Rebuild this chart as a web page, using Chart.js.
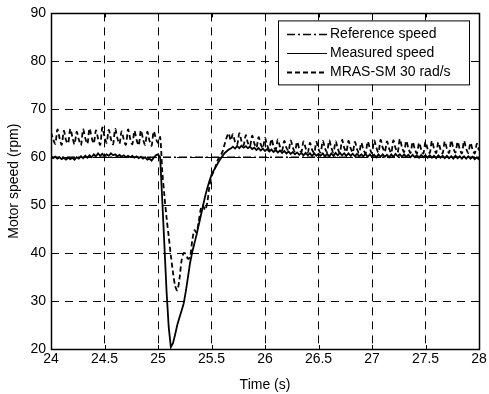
<!DOCTYPE html>
<html>
<head>
<meta charset="utf-8">
<script src="https://cdn.jsdelivr.net/npm/chart.js@4/dist/chart.umd.min.js"></script>
<style>
  html, body { margin: 0; padding: 0; background: #fff; }
  #wrap { width: 489px; height: 394px; }
</style>
</head>
<body>
<div id="wrap"><canvas id="chart" width="489" height="394"></canvas></div>
<script>
// Eje de tiempo (s), muestreo de 0.02 s
const time = [
  24.00, 24.02, 24.04, 24.06, 24.08, 24.10, 24.12, 24.14, 24.16, 24.18,
  24.20, 24.22, 24.24, 24.26, 24.28, 24.30, 24.32, 24.34, 24.36, 24.38,
  24.40, 24.42, 24.44, 24.46, 24.48, 24.50, 24.52, 24.54, 24.56, 24.58,
  24.60, 24.62, 24.64, 24.66, 24.68, 24.70, 24.72, 24.74, 24.76, 24.78,
  24.80, 24.82, 24.84, 24.86, 24.88, 24.90, 24.92, 24.94, 24.96, 24.98,
  25.00, 25.02, 25.04, 25.06, 25.08, 25.10, 25.12, 25.14, 25.16, 25.18,
  25.20, 25.22, 25.24, 25.26, 25.28, 25.30, 25.32, 25.34, 25.36, 25.38,
  25.40, 25.42, 25.44, 25.46, 25.48, 25.50, 25.52, 25.54, 25.56, 25.58,
  25.60, 25.62, 25.64, 25.66, 25.68, 25.70, 25.72, 25.74, 25.76, 25.78,
  25.80, 25.82, 25.84, 25.86, 25.88, 25.90, 25.92, 25.94, 25.96, 25.98,
  26.00, 26.02, 26.04, 26.06, 26.08, 26.10, 26.12, 26.14, 26.16, 26.18,
  26.20, 26.22, 26.24, 26.26, 26.28, 26.30, 26.32, 26.34, 26.36, 26.38,
  26.40, 26.42, 26.44, 26.46, 26.48, 26.50, 26.52, 26.54, 26.56, 26.58,
  26.60, 26.62, 26.64, 26.66, 26.68, 26.70, 26.72, 26.74, 26.76, 26.78,
  26.80, 26.82, 26.84, 26.86, 26.88, 26.90, 26.92, 26.94, 26.96, 26.98,
  27.00, 27.02, 27.04, 27.06, 27.08, 27.10, 27.12, 27.14, 27.16, 27.18,
  27.20, 27.22, 27.24, 27.26, 27.28, 27.30, 27.32, 27.34, 27.36, 27.38,
  27.40, 27.42, 27.44, 27.46, 27.48, 27.50, 27.52, 27.54, 27.56, 27.58,
  27.60, 27.62, 27.64, 27.66, 27.68, 27.70, 27.72, 27.74, 27.76, 27.78,
  27.80, 27.82, 27.84, 27.86, 27.88, 27.90, 27.92, 27.94, 27.96, 27.98,
  28.00,
];

// Velocidad de referencia (rpm)
const refTime = [24, 28];
const refSpeed = [60, 60];

// Velocidad medida (rpm)
const measuredSpeed = [
  60.2, 59.8, 60.1, 59.7, 60.0, 59.6, 59.9, 59.5, 59.9, 59.6,
  59.9, 59.5, 60.0, 59.7, 60.2, 59.8, 60.3, 59.9, 60.4, 60.0,
  60.6, 60.2, 60.8, 60.3, 60.7, 60.2, 60.6, 60.3, 60.8, 60.4,
  60.6, 60.2, 60.5, 60.1, 60.4, 60.0, 60.3, 60.0, 60.3, 59.9,
  60.2, 59.8, 60.1, 59.7, 60.0, 59.5, 59.7, 59.3, 59.9, 60.4,
  60.6, 60.0, 51.0, 41.5, 32.0, 24.6, 20.4, 21.2, 23.0, 25.0,
  26.5, 28.0, 29.5, 32.0, 35.0, 38.0, 40.2, 42.0, 43.8, 45.8,
  47.8, 49.8, 51.8, 53.5, 55.0, 56.3, 57.2, 58.0, 58.8, 59.5,
  60.2, 60.8, 61.2, 61.6, 61.8, 62.2, 61.8, 62.3, 61.9, 62.4,
  62.0, 62.3, 61.9, 62.2, 61.7, 62.0, 61.5, 61.9, 61.4, 61.8,
  61.3, 61.7, 61.2, 61.6, 61.1, 61.5, 61.0, 61.4, 60.9, 61.3,
  60.8, 61.2, 60.7, 61.1, 60.6, 61.0, 60.5, 60.9, 60.4, 60.9,
  60.4, 60.8, 60.3, 60.8, 60.3, 60.7, 60.3, 60.8, 60.2, 60.7,
  60.2, 60.8, 60.3, 60.9, 60.4, 60.9, 60.4, 60.8, 60.3, 60.8,
  60.3, 60.7, 60.2, 60.7, 60.2, 60.6, 60.2, 60.7, 60.1, 60.6,
  60.1, 60.5, 60.0, 60.6, 60.1, 60.6, 60.1, 60.5, 60.0, 60.6,
  60.1, 60.7, 60.2, 60.6, 60.1, 60.6, 60.1, 60.5, 60.0, 60.5,
  60.0, 60.4, 59.9, 60.5, 60.0, 60.4, 59.9, 60.4, 59.9, 60.3,
  59.8, 60.4, 59.9, 60.3, 59.8, 60.3, 59.8, 60.2, 59.7, 60.3,
  59.8, 60.2, 59.7, 60.2, 59.7, 60.2, 59.7, 60.1, 59.6, 60.0,
  59.5,
];

// Velocidad estimada MRAS-SM 30 rad/s (rpm)
const mrasSpeed = [
  65.2, 63.8, 62.8, 65.8, 64.0, 62.6, 65.5, 63.6, 62.9, 65.9,
  64.2, 62.7, 65.3, 63.7, 62.5, 65.8, 64.0, 62.8, 66.0, 64.1,
  62.9, 65.6, 63.9, 62.6, 66.2, 64.3, 63.0, 65.7, 63.8, 62.7,
  65.9, 64.0, 62.8, 65.4, 63.7, 62.6, 65.8, 63.9, 62.7, 65.5,
  63.6, 62.5, 65.6, 63.8, 62.6, 65.3, 63.5, 62.4, 65.4, 63.9,
  63.0, 64.2, 57.0, 52.0, 47.4, 43.5, 39.5, 36.0, 33.2, 32.2,
  34.5, 38.4, 40.0, 39.8, 38.8, 39.2, 42.6, 44.8, 44.3, 46.5,
  49.2, 50.0, 49.0, 50.5, 53.8, 56.0, 57.0, 58.2, 59.5, 60.2,
  61.0, 62.5, 64.0, 65.0, 63.5, 64.8, 63.2, 62.6, 65.0, 63.4,
  62.5, 64.6, 63.0, 62.3, 64.5, 62.9, 62.0, 64.2, 62.7, 61.9,
  64.0, 62.5, 61.7, 63.8, 62.3, 61.6, 63.7, 62.2, 61.4, 63.4,
  62.0, 61.3, 63.5, 62.0, 61.2, 63.2, 61.8, 61.1, 63.3, 61.9,
  61.0, 63.0, 61.6, 60.9, 63.2, 61.7, 61.0, 63.4, 61.9, 61.1,
  63.5, 62.0, 61.0, 63.3, 61.8, 60.9, 63.6, 62.0, 61.1, 63.4,
  61.9, 61.0, 63.2, 61.7, 60.9, 63.0, 61.6, 60.8, 63.3, 61.8,
  60.9, 63.5, 62.0, 61.0, 63.6, 62.0, 61.1, 63.3, 61.8, 60.9,
  63.5, 61.9, 61.0, 63.8, 62.1, 61.1, 63.4, 61.9, 60.9, 63.2,
  61.7, 60.8, 63.0, 61.6, 60.8, 63.2, 61.7, 60.9, 63.4, 61.8,
  60.9, 63.1, 61.6, 60.8, 63.3, 61.8, 60.9, 63.5, 61.9, 61.0,
  63.2, 61.7, 60.8, 63.4, 61.8, 60.9, 63.0, 61.6, 60.8, 62.8,
  61.4,
];

const xTicks = { min: 24, max: 28, step: 0.5 };
const yTicks = { min: 20, max: 90, step: 10 };

const toPoints = (xs, ys) => xs.map((x, i) => ({ x, y: ys[i] }));

Chart.defaults.font.family = "'Liberation Sans', Arial, Helvetica, sans-serif";
Chart.defaults.font.size = 14;
Chart.defaults.color = "#000";

// Marco completo + marcas de escala hacia dentro (estilo MATLAB)
const frame = {
  id: "frame",
  afterDatasetsDraw(chart) {
    const { ctx, chartArea: a, scales } = chart;
    ctx.save();
    ctx.strokeStyle = "#000";
    ctx.lineWidth = 1;
    ctx.setLineDash([]);
    ctx.beginPath();
    scales.x.ticks.forEach((t) => {
      const px = Math.round(scales.x.getPixelForValue(t.value)) + 0.5;
      ctx.moveTo(px, a.bottom); ctx.lineTo(px, a.bottom - 4);
      ctx.moveTo(px, a.top); ctx.lineTo(px, a.top + 4);
    });
    scales.y.ticks.forEach((t) => {
      const py = Math.round(scales.y.getPixelForValue(t.value)) + 0.5;
      ctx.moveTo(a.left, py); ctx.lineTo(a.left + 4, py);
      ctx.moveTo(a.right, py); ctx.lineTo(a.right - 4, py);
    });
    ctx.stroke();
    ctx.lineWidth = 1.5;
    ctx.strokeRect(Math.round(a.left) + 0.5, Math.round(a.top) + 0.5,
      Math.round(a.right - a.left), Math.round(a.bottom - a.top));
    ctx.restore();
  },
};

// Leyenda con recuadro dentro del área de trazado
const boxLegend = {
  id: "boxLegend",
  afterDraw(chart) {
    const { ctx, chartArea: a } = chart;
    const sets = chart.data.datasets;
    const w = 191, rowH = 19, h = rowH * sets.length + 7;
    const x0 = a.right - 10 - w, y0 = a.top + 7;
    ctx.save();
    ctx.fillStyle = "#fff";
    ctx.fillRect(x0, y0, w, h);
    ctx.strokeStyle = "#000";
    ctx.lineWidth = 1;
    ctx.setLineDash([]);
    ctx.strokeRect(x0 + 0.5, y0 + 0.5, w, h);
    ctx.font = "14px 'Liberation Sans', Arial, sans-serif";
    ctx.textBaseline = "middle";
    ctx.fillStyle = "#000";
    sets.forEach((ds, i) => {
      const cy = Math.round(y0 + 14 + i * rowH) + 0.5;
      ctx.setLineDash(ds.borderDash || []);
      ctx.lineWidth = ds.legendWidth || 1;
      ctx.beginPath();
      ctx.moveTo(x0 + 9, cy);
      ctx.lineTo(x0 + 49, cy);
      ctx.stroke();
      ctx.setLineDash([]);
      ctx.fillText(ds.label, x0 + 52, cy);
    });
    ctx.restore();
  },
};

new Chart(document.getElementById("chart"), {
  type: "line",
  data: {
    datasets: [
      {
        label: "Reference speed",
        data: toPoints(refTime, refSpeed),
        borderColor: "#000",
        borderWidth: 1.3,
        borderDash: [8, 3, 2, 3],
        legendWidth: 1.3,
        pointRadius: 0,
      },
      {
        label: "Measured speed",
        data: toPoints(time, measuredSpeed),
        borderColor: "#000",
        borderWidth: 1.8,
        legendWidth: 1,
        pointRadius: 0,
      },
      {
        label: "MRAS-SM 30 rad/s",
        data: toPoints(time, mrasSpeed),
        borderColor: "#000",
        borderWidth: 1.8,
        borderDash: [5, 3],
        legendWidth: 1.8,
        tension: 0.3,
        pointRadius: 0,
      },
    ],
  },
  options: {
    responsive: false,
    animation: false,
    events: [],
    layout: { padding: { top: 11, right: 10, left: 0, bottom: 0 } },
    plugins: { legend: { display: false }, tooltip: { enabled: false } },
    scales: {
      x: {
        type: "linear",
        min: xTicks.min,
        max: xTicks.max,
        afterFit: (s) => { s.height = 45; },
        ticks: { stepSize: xTicks.step, padding: 2, maxRotation: 0, autoSkip: false,
          callback: (v) => String(v) },
        grid: { color: "#000", lineWidth: 1, drawTicks: false },
        border: { display: false, dash: [8, 6] },
        title: { display: true, text: "Time (s)", padding: { top: 4, bottom: 0 } },
      },
      y: {
        min: yTicks.min,
        max: yTicks.max,
        afterFit: (s) => { s.width = 51; },
        ticks: { stepSize: yTicks.step, padding: 5 },
        grid: { color: "#000", lineWidth: 1, drawTicks: false },
        border: { display: false, dash: [8, 6] },
        title: { display: true, text: "Motor speed (rpm)", padding: { top: 6, bottom: 0 } },
      },
    },
  },
  plugins: [frame, boxLegend],
});
</script>
</body>
</html>
